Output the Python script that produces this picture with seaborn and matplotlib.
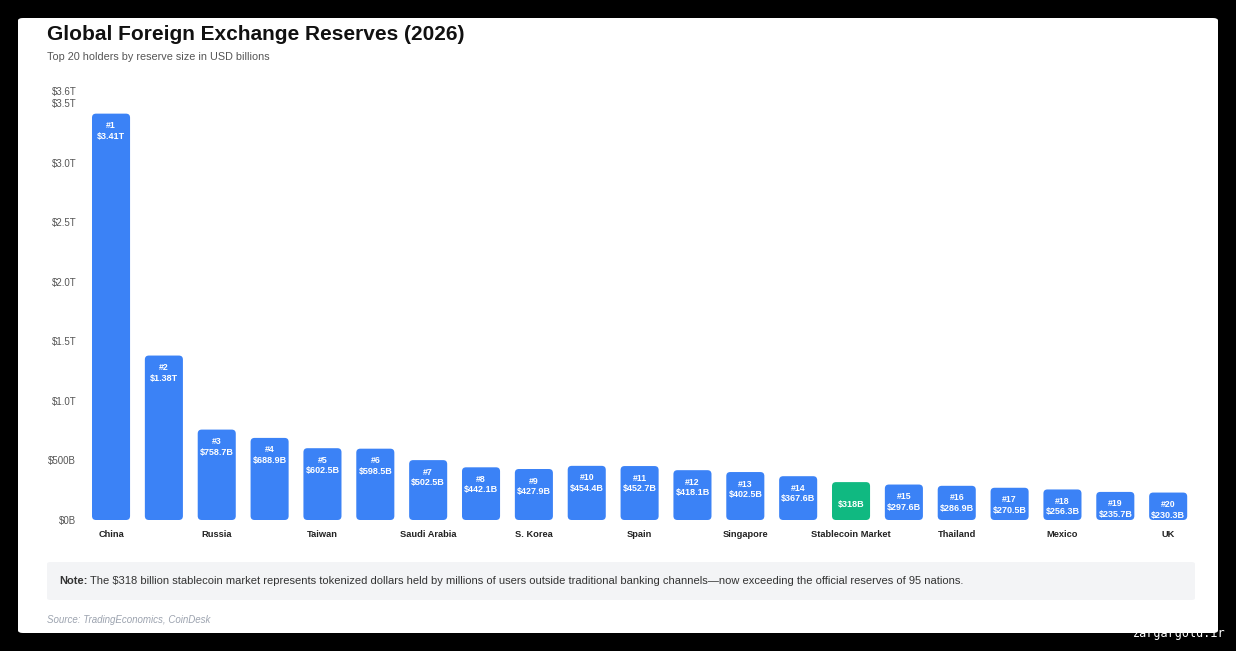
import numpy as np
import pandas as pd
import matplotlib
matplotlib.use("Agg")
import matplotlib.pyplot as plt
from matplotlib.patches import FancyBboxPatch
import seaborn as sns

# Values (USD billions)
reserves = [3410, 1380, 758.7, 688.9, 602.5, 598.5, 502.5, 442.1, 427.9, 454.4,
            452.7, 418.1, 402.5, 367.6, 318, 297.6, 286.9, 270.5, 256.3, 235.7, 230.3]
ranks = ["#1", "#2", "#3", "#4", "#5", "#6", "#7", "#8", "#9", "#10",
         "#11", "#12", "#13", "#14", "", "#15", "#16", "#17", "#18", "#19", "#20"]
value_labels = ["$3.41T", "$1.38T", "$758.7B", "$688.9B", "$602.5B", "$598.5B", "$502.5B",
                "$442.1B", "$427.9B", "$454.4B", "$452.7B", "$418.1B", "$402.5B", "$367.6B",
                "$318B", "$297.6B", "$286.9B", "$270.5B", "$256.3B", "$235.7B", "$230.3B"]
# only every second holder is named on the axis
tick_labels = ["China", "", "Russia", "", "Taiwan", "", "Saudi Arabia", "", "S. Korea", "",
               "Spain", "", "Singapore", "", "Stablecoin Market", "", "Thailand", "",
               "Mexico", "", "UK"]
is_stablecoin = [lab == "Stablecoin Market" for lab in tick_labels]
y_ticks = [0, 500, 1000, 1500, 2000, 2500, 3000, 3500, 3600]
y_tick_labels = ["$0B", "$500B", "$1.0T", "$1.5T", "$2.0T", "$2.5T", "$3.0T", "$3.5T", "$3.6T"]

BLUE = "#3b82f6"
GREEN = "#10b981"

sns.set_theme(style="white")
plt.rcParams["font.family"] = ["Liberation Sans", "DejaVu Sans"]

df = pd.DataFrame({
    "pos": [str(i) for i in range(len(reserves))],
    "value": reserves,
    "kind": ["stable" if s else "nation" for s in is_stablecoin],
})

W, H = 1236, 651
fig = plt.figure(figsize=(W / 100, H / 100), dpi=100)
fig.patch.set_facecolor("black")

def fx(px):
    return px / W

def fy(py):
    return 1 - py / H

# white card behind everything
card = FancyBboxPatch((fx(18), fy(633)), fx(1218) - fx(18), fy(18) - fy(633),
                      boxstyle="round,pad=0,rounding_size=0.004",
                      transform=fig.transFigure, facecolor="white", edgecolor="none", zorder=-10)
fig.patches.append(card)

ax = fig.add_axes([fx(84.6), fy(520), fx(1194.6) - fx(84.6), fy(91) - fy(520)])
ax.set_facecolor("none")
ax.set_zorder(5)

sns.barplot(data=df, x="pos", y="value", hue="kind",
            palette={"nation": BLUE, "stable": GREEN},
            width=0.72, saturation=1, legend=False, ax=ax)

ax.set_ylim(0, 3600)
ax.set_xlim(-0.5, len(reserves) - 0.5)

# swap the square bars for rounded ones
xunit_px = (fx(1194.6) - fx(84.6)) * W / len(reserves)
yunit_px = (fy(91) - fy(520)) * H / 3600
for p in list(ax.patches):
    x0, y0 = p.get_x(), p.get_y()
    w, h = p.get_width(), p.get_height()
    r = 4 / xunit_px
    rp = FancyBboxPatch((x0, y0), w, h,
                        boxstyle=f"round,pad=0,rounding_size={r}",
                        mutation_aspect=xunit_px / yunit_px,
                        facecolor=p.get_facecolor(), edgecolor="none", zorder=2)
    p.remove()
    ax.add_patch(rp)

for i, v in enumerate(reserves):
    if ranks[i]:
        ax.annotate(ranks[i], xy=(i, v), xytext=(0, -12 * 0.72), textcoords="offset points",
                    ha="center", va="center", color="white", fontsize=6.3, fontweight="bold", zorder=3)
    ax.annotate(value_labels[i], xy=(i, v), xytext=(0, -22.5 * 0.72), textcoords="offset points",
                ha="center", va="center", color="white", fontsize=6.5, fontweight="bold", zorder=3)

ax.set_yticks(y_ticks)
ax.set_yticklabels(y_tick_labels, fontsize=7, color="#555555")
ax.set_xticks(range(len(reserves)))
ax.set_xticklabels(tick_labels, fontsize=6.7, fontweight="bold", color="#222222")
ax.tick_params(axis="both", length=0)
ax.tick_params(axis="x", pad=7.5)
ax.tick_params(axis="y", pad=6)
ax.set_xlabel("")
ax.set_ylabel("")
for s in ax.spines.values():
    s.set_visible(False)

# titles
fig.text(fx(47), fy(34), "Global Foreign Exchange Reserves (2026)", fontsize=15,
         fontweight="bold", color="#111111", va="center", ha="left")
fig.text(fx(47), fy(57), "Top 20 holders by reserve size in USD billions", fontsize=7.8,
         color="#555555", va="center", ha="left")

# note box
note = FancyBboxPatch((fx(47), fy(600)), fx(1195) - fx(47), fy(562) - fy(600),
                      boxstyle="round,pad=0,rounding_size=0.003",
                      transform=fig.transFigure, facecolor="#f3f4f6", edgecolor="none", zorder=1)
fig.patches.append(note)
t1 = fig.text(fx(59), fy(581), "Note:", fontsize=8, fontweight="bold", color="#333333",
              va="center", ha="left")
fig.canvas.draw()
bb = t1.get_window_extent()
fig.text(bb.x1 / W + fx(3), fy(581),
         "The $318 billion stablecoin market represents tokenized dollars held by millions of users "
         "outside traditional banking channels\u2014now exceeding the official reserves of 95 nations.",
         fontsize=8, color="#333333", va="center", ha="left")

fig.text(fx(47), fy(620), "Source: TradingEconomics, CoinDesk", fontsize=7, style="italic",
         color="#9ca3af", va="center", ha="left")

fig.text(fx(1225), fy(634), "zargargold.ir", fontsize=8.5, color="white",
         family="DejaVu Sans Mono", va="center", ha="right")

fig.savefig("out.png", dpi=100, facecolor=fig.get_facecolor())
